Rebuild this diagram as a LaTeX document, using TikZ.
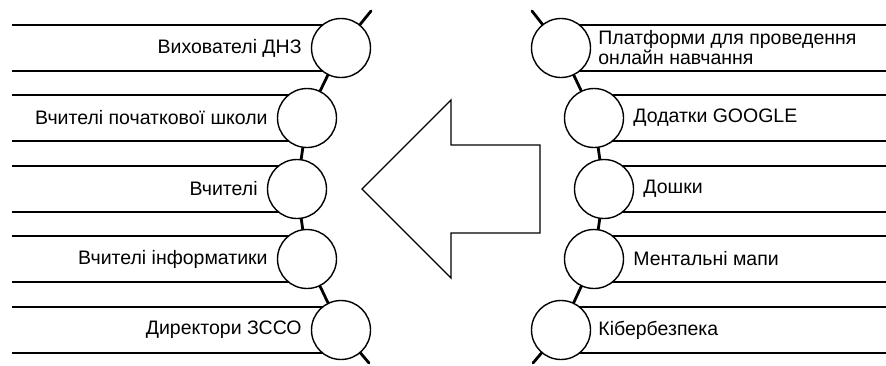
\documentclass[tikz,border=0pt]{standalone}
\usepackage{fontspec}
\setmainfont{Liberation Sans}
\usetikzlibrary{positioning, backgrounds}
\tikzstyle{ring} = [circle, minimum size=59pt, inner sep=0pt, draw=black, line width=1.4pt, fill=white]
\tikzstyle{bar} = [line width=1.2pt]
\tikzstyle{spine} = [line width=2.8pt, line cap=round]
\tikzstyle{lefttext} = [font=\fontsize{19.5}{20}\selectfont, inner sep=2pt]
\tikzstyle{righttext} = [font=\fontsize{19.5}{20}\selectfont, inner sep=2pt, align=left]
\tikzstyle{bigarrow} = [draw=black, line width=1.3pt, fill=white, line join=miter]

\begin{document}
\begin{tikzpicture}[x=1pt, y=-1pt]
\useasboundingbox (0,0) rectangle (886,365);

% left chain
\coordinate (ltop) at (371,11);
\coordinate (lbot) at (369,363);
\node (l1) [ring] at (341,48) {};
\node (l2) [ring] at (307,118) {};
\node (l3) [ring] at (297,189) {};
\node (l4) [ring] at (307,259) {};
\node (l5) [ring] at (341,330) {};

\node (educ) [lefttext, left=7pt of l1] {Вихователі ДНЗ};
\node (prim) [lefttext, left=7pt of l2] {Вчителі початкової школи};
\node (teach) [lefttext, left=7pt of l3] {Вчителі};
\node (info) [lefttext, left=7pt of l4] {Вчителі інформатики};
\node (dirs) [lefttext, left=7pt of l5] {Директори ЗССО};

% right chain
\coordinate (rtop) at (532,11);
\coordinate (rbot) at (533,363);
\node (r1) [ring] at (561,48) {};
\node (r2) [ring] at (594,118) {};
\node (r3) [ring] at (604,189) {};
\node (r4) [ring] at (594,259) {};
\node (r5) [ring] at (561,330) {};

\node (platf) [righttext, right=5pt of r1] {Платформи для проведення\\онлайн навчання};
\node (google) [righttext, right=7pt of r2] {Додатки GOOGLE};
\node (boards) [righttext, right=7pt of r3] {Дошки};
\node (maps) [righttext, right=7pt of r4] {Ментальні мапи};
\node (cyber) [righttext, right=5pt of r5] {Кібербезпека};

\begin{pgfonlayer}{background}
\draw [bar] (12,25) -- (l1 |- 0,25) (12,71) -- (l1 |- 0,71);
\draw [bar] (12,95) -- (l2 |- 0,95) (12,141) -- (l2 |- 0,141);
\draw [bar] (12,166) -- (l3 |- 0,166) (12,212) -- (l3 |- 0,212);
\draw [bar] (12,236) -- (l4 |- 0,236) (12,282) -- (l4 |- 0,282);
\draw [bar] (12,307) -- (l5 |- 0,307) (12,353) -- (l5 |- 0,353);
\draw [bar] (r1 |- 0,25) -- (886,25) (r1 |- 0,71) -- (886,71);
\draw [bar] (r2 |- 0,95) -- (886,95) (r2 |- 0,141) -- (886,141);
\draw [bar] (r3 |- 0,166) -- (886,166) (r3 |- 0,212) -- (886,212);
\draw [bar] (r4 |- 0,236) -- (886,236) (r4 |- 0,282) -- (886,282);
\draw [bar] (r5 |- 0,307) -- (886,307) (r5 |- 0,353) -- (886,353);
\draw [spine] (ltop) -- (l1.center) -- (l2.center) -- (l3.center) -- (l4.center) -- (l5.center) -- (lbot);
\draw [spine] (rtop) -- (r1.center) -- (r2.center) -- (r3.center) -- (r4.center) -- (r5.center) -- (rbot);
\end{pgfonlayer}

% big arrow
\draw [bigarrow] (362,189) -- (451,100) -- (451,145) -- (540,145) -- (540,233) -- (451,233) -- (451,278) -- cycle;

\end{tikzpicture}
\end{document}
